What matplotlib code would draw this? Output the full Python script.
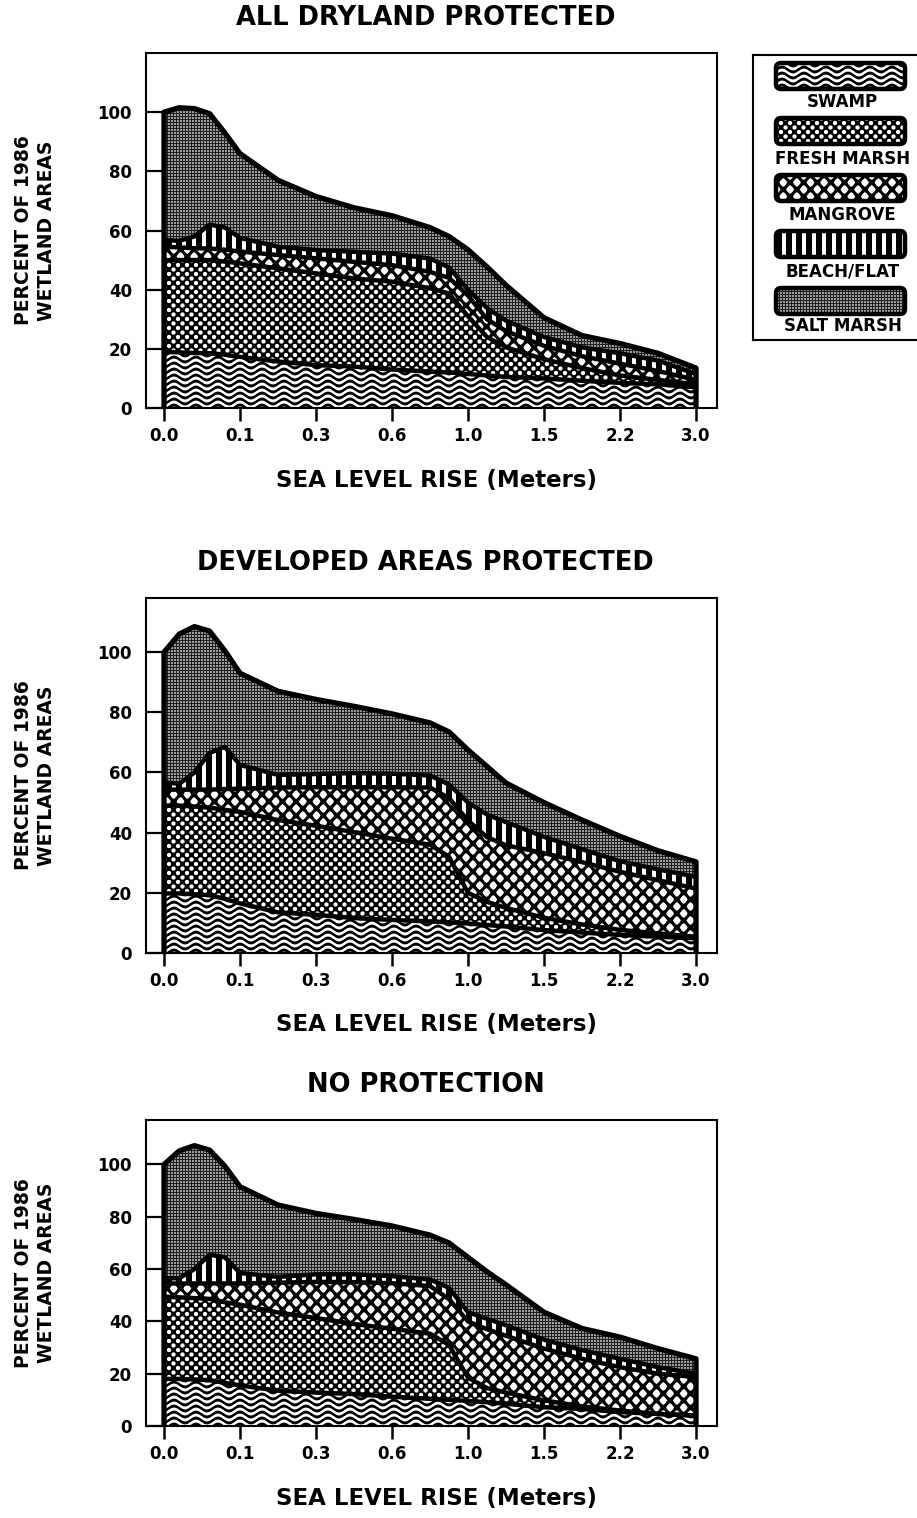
import numpy as np
import matplotlib
matplotlib.use("Agg")
import matplotlib.pyplot as plt
from matplotlib.patches import Polygon, FancyBboxPatch

plt.rcParams['font.family'] = ['DejaVu Sans']
plt.rcParams['font.weight'] = 'bold'

W, H, DPI = 917, 1518, 100

tick_labels = ["0.0", "0.1", "0.3", "0.6", "1.0", "1.5", "2.2", "3.0"]
# points along the (evenly spaced) sea level axis where the bands were read
pos = [0, 0.2, 0.4, 0.6, 0.8, 1, 1.5, 2, 2.5, 3, 3.5, 3.75, 4, 4.25, 4.5, 5, 5.5, 6, 6.5, 7]

categories = ["SWAMP", "FRESH MARSH", "MANGROVE", "BEACH/FLAT", "SALT MARSH"]
titles = ["ALL DRYLAND PROTECTED", "DEVELOPED AREAS PROTECTED", "NO PROTECTION"]

# top edge of each band, cumulative percent of 1986 wetland area
dry_swamp = [19, 18.8, 18.6, 18.5, 18, 17.3, 15.7, 14.5, 14, 13, 12.3, 12, 11.5, 11, 10.5, 10, 9.2, 8.5, 8, 7]
dry_fresh = [50, 50, 50, 50, 49.5, 48.9, 47.2, 45.5, 43.8, 42.7, 40.5, 38.7, 31, 24, 20.5, 16.5, 13.5, 11, 9.5, 8]
dry_mangrove = [54.5, 54.3, 54, 53.9, 53.5, 52.9, 51.7, 50.6, 49.4, 48.3, 46, 44, 38, 30, 26, 21, 17.5, 15, 12.5, 9.5]
dry_beach = [56.8, 56.5, 58, 62, 61, 57.5, 54.5, 53.4, 52.8, 52.2, 50.5, 47.5, 40, 33.8, 29.5, 24, 20.5, 18.5, 16, 11.5]
dry_salt = [100, 101.5, 101.2, 99.5, 93, 86, 77, 71.5, 67.7, 65, 61, 58, 53.5, 47.7, 41.5, 30.5, 24.5, 21.8, 18.5, 13.5]

dev_swamp = [19.8, 19.8, 19.5, 19.2, 18, 16.5, 13.5, 12.7, 11.6, 11, 10.5, 10.2, 9.8, 9.3, 8.8, 7.6, 6.8, 6, 5.4, 4.9]
dev_fresh = [49, 49, 48.7, 48.3, 47.6, 46.9, 44.2, 42.3, 40.2, 38, 36, 32, 20, 17, 15, 11.7, 9.5, 7.7, 6.5, 5.4]
dev_mangrove = [54.3, 54.3, 54.3, 54.3, 54.5, 54.6, 55, 55.1, 55.1, 55.1, 55, 51.5, 44, 38.5, 35.8, 33.2, 30.2, 27, 24.2, 21.4]
dev_beach = [56.8, 56.2, 60, 66.5, 68.5, 62.5, 59.2, 59.5, 59.8, 59.6, 59, 56, 50, 46, 43.5, 38.6, 34.5, 30.5, 27.8, 25.3]
dev_salt = [100, 106, 108.5, 107, 100.5, 93, 87, 84.3, 82, 79.5, 76.5, 73.5, 67.5, 62, 56.5, 50, 44.2, 38.8, 34, 30.3]

none_swamp = [18, 18, 17.8, 17.5, 16.5, 15.5, 13.5, 12.8, 12.2, 11.2, 10.4, 10, 9.6, 9.1, 8.5, 7.2, 6.5, 5.3, 4.6, 4]
none_fresh = [49.4, 49.2, 48.9, 48.6, 47.3, 46.4, 43.4, 41.3, 39, 37.2, 35.3, 31, 18.5, 14.5, 12.8, 9.8, 7.5, 5.9, 4.6, 4]
none_mangrove = [54.5, 54.5, 54.5, 54.5, 54.5, 54.5, 54.8, 55.1, 55, 54.6, 53.5, 48.5, 40, 37, 34.5, 29.6, 25.7, 22.5, 20, 18.7]
none_beach = [56.5, 56.5, 60, 65.5, 64.5, 58.5, 57, 58, 58, 57.3, 56, 52.8, 43.5, 41, 38.5, 33, 29, 25.7, 22.5, 20]
none_salt = [100, 105.2, 107.2, 105.5, 99.4, 91.5, 84.5, 81.3, 79, 76.5, 73, 70, 64.5, 59, 54, 43.5, 37.3, 34, 29.6, 25.7]

panels = [
    [dry_swamp, dry_fresh, dry_mangrove, dry_beach, dry_salt],
    [dev_swamp, dev_fresh, dev_mangrove, dev_beach, dev_salt],
    [none_swamp, none_fresh, none_mangrove, none_beach, none_salt],
]


def texture(kind, w, h):
    # grey-level fill patterns imitating the printed screens
    yy, xx = np.mgrid[0:h, 0:w].astype(float)
    if kind == "SWAMP":
        ph = (yy + 2.4 * np.sin(2 * np.pi * xx / 22.0)) % 6.0
        d = np.minimum(ph, 6.0 - ph)
        return np.clip(d - 1.0, 0, 1)
    if kind == "FRESH MARSH":
        s = 4.5
        dxa = (xx % (2 * s)) - s
        dya = (yy % (2 * s)) - s
        dxb = ((xx + s) % (2 * s)) - s
        dyb = ((yy + s) % (2 * s)) - s
        d = np.minimum(np.hypot(dxa, dya), np.hypot(dxb, dyb))
        return np.clip(2.1 - d + 0.5, 0, 1)
    if kind == "MANGROVE":
        sx, sy = 6.8, 7.0
        best = np.full(xx.shape, 9.0)
        for ox, oy in [(0, 0), (sx, sy)]:
            dx = np.abs(((xx + ox) % (2 * sx)) - sx)
            dy = np.abs(((yy + oy) % (2 * sy)) - sy)
            m = ((dx / 3.8) ** 1.3 + (dy / 4.3) ** 1.3) ** (1 / 1.3)
            best = np.minimum(best, m)
        return np.clip((1 - best) * 3.8 + 0.5, 0, 1)
    if kind == "BEACH/FLAT":
        return ((xx % 10) >= 6).astype(float)
    v = np.full(xx.shape, 0.62)
    v[(xx % 3 == 0) | (yy % 3 == 0)] = 0.12
    return v


def add_axes_px(fig, left, top, right, bottom):
    return fig.add_axes([left / W, 1 - bottom / H, (right - left) / W, (bottom - top) / H])


fig = plt.figure(figsize=(W / DPI, H / DPI), dpi=DPI)

# pixel boxes of the three frames and their y ranges
boxes = [(146, 53, 717, 408), (146, 598, 717, 953), (146, 1120, 717, 1426)]
ytops = [120, 118, 117]
xlim = (-0.237, 7.276)

for k, (box, bands) in enumerate(zip(boxes, panels)):
    left, top, right, bottom = box
    ax = add_axes_px(fig, *box)
    ylim = (0, ytops[k])
    wpx, hpx = right - left, bottom - top
    x = np.array(pos, dtype=float)
    lower = np.zeros_like(x)
    for name, upper in zip(categories, bands):
        upper = np.array(upper, dtype=float)
        verts = np.vstack([np.column_stack([x, upper]), np.column_stack([x[::-1], lower[::-1]])])
        patch = Polygon(verts, closed=True, facecolor="none", edgecolor="none")
        ax.add_patch(patch)
        im = ax.imshow(texture(name, wpx, hpx), cmap="gray", vmin=0, vmax=1,
                       interpolation="nearest", aspect="auto",
                       extent=(xlim[0], xlim[1], ylim[0], ylim[1]), zorder=1)
        im.set_clip_path(patch)
        if name != "SALT MARSH":
            ax.plot(x, upper, color="black", lw=3.2, solid_joinstyle="round",
                    solid_capstyle="round", zorder=3)
        lower = upper
    total = np.array(bands[-1], dtype=float)
    outline = np.vstack([[[x[0], 0]], np.column_stack([x, total]), [[x[-1], 0]]])
    ax.add_patch(Polygon(outline, closed=False, facecolor="none", edgecolor="black",
                         lw=3.8, joinstyle="round", zorder=4))

    ax.set_xlim(*xlim)
    ax.set_ylim(*ylim)
    ax.set_xticks(range(len(tick_labels)))
    ax.set_xticklabels(tick_labels)
    ax.set_yticks([0, 20, 40, 60, 80, 100])
    ax.tick_params(axis="x", direction="out", length=9, width=1.8, pad=5, labelsize=12)
    ax.tick_params(axis="y", direction="in", length=12, width=1.6, pad=10, labelsize=12)
    for sp in ax.spines.values():
        sp.set_linewidth(1.5)

    cx = (left + right) / 2
    fig.text((cx - 6) / W, 1 - (top - 35) / H, titles[k], ha="center", va="center", fontsize=18.5)
    fig.text((cx + 5) / W, 1 - (bottom + 72) / H, "SEA LEVEL RISE (Meters)",
             ha="center", va="center", fontsize=16.5)
    fig.text(35 / W, 1 - ((top + bottom) / 2) / H, "PERCENT OF 1986\nWETLAND AREAS",
             rotation=90, ha="center", va="center", multialignment="center",
             fontsize=13.5, linespacing=1.25)

# legend panel, drawn in pixel units
lg = add_axes_px(fig, 753, 55, 935, 340)
lg.set_xticks([])
lg.set_yticks([])
for sp in lg.spines.values():
    sp.set_linewidth(1.5)
sw_tops = [63, 118, 175, 231, 288]
lab_y = [102, 159, 215, 271, 326]
sw_left, sw_w, sw_h = 776, 129, 26
for name, ty, ly in zip(categories, sw_tops, lab_y):
    box = FancyBboxPatch((sw_left, ty), sw_w, sw_h, boxstyle="round,pad=0,rounding_size=5",
                         facecolor="none", edgecolor="black", lw=3.2, zorder=3)
    lg.add_patch(box)
    im = lg.imshow(texture(name, sw_w, sw_h), cmap="gray", vmin=0, vmax=1,
                   interpolation="nearest", aspect="auto",
                   extent=(sw_left, sw_left + sw_w, ty + sw_h, ty), zorder=1)
    im.set_clip_path(box)
    lg.text(sw_left + sw_w / 2 + 2, ly, name, ha="center", va="center", fontsize=12)
lg.set_xlim(753, 935)
lg.set_ylim(340, 55)

fig.savefig("out.png", dpi=DPI)
